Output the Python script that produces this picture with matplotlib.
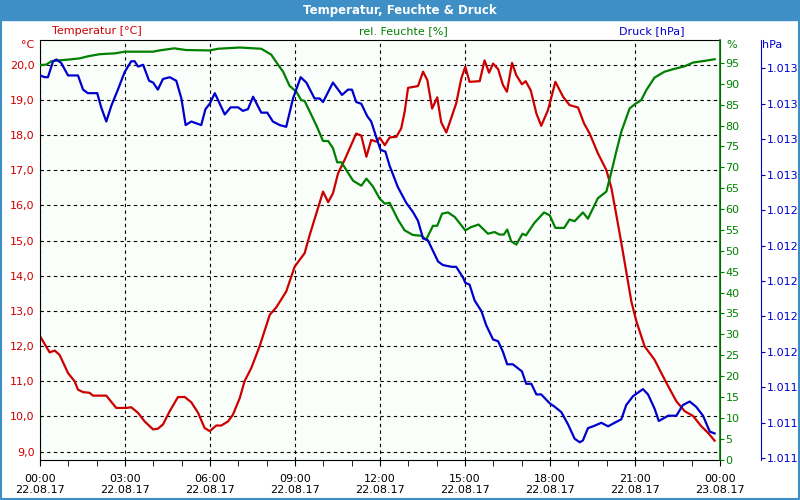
import matplotlib.pyplot as plt
from matplotlib.patches import Rectangle
from matplotlib.ticker import FixedLocator, FuncFormatter, MultipleLocator

# temperature [°C], hours since 22.08.17 00:00
temp_h = [0.0, 0.34, 0.52, 0.69, 0.99, 1.22, 1.34, 1.52, 1.75, 1.87, 2.34, 2.69, 3.05, 3.22, 3.46, 3.69,
          3.99, 4.16, 4.34, 4.58, 4.87, 5.11, 5.34, 5.58, 5.81, 5.99, 6.22, 6.4, 6.64, 6.81, 7.05, 7.22,
          7.46, 7.75, 8.11, 8.34, 8.69, 8.99, 9.34, 9.52, 9.99, 10.17, 10.34, 10.52, 10.75, 11.16, 11.34,
          11.52, 11.69, 11.87, 11.99, 12.17, 12.34, 12.58, 12.75, 12.87, 12.99, 13.34, 13.52, 13.67,
          13.84, 14.02, 14.16, 14.34, 14.69, 14.87, 15.01, 15.16, 15.52, 15.69, 15.85, 15.99, 16.17,
          16.34, 16.48, 16.66, 16.81, 17.01, 17.14, 17.32, 17.52, 17.69, 17.93, 18.19, 18.46, 18.69,
          18.99, 19.2, 19.4, 19.69, 19.99, 20.17, 20.34, 20.52, 20.69, 20.87, 21.05, 21.34, 21.69,
          21.93, 22.17, 22.46, 22.75, 23.05, 23.34, 23.58, 23.81]
temp = [12.28, 11.82, 11.87, 11.75, 11.23, 11.0, 10.76, 10.69, 10.67, 10.59, 10.59, 10.24, 10.24, 10.26,
        10.10, 9.86, 9.63, 9.65, 9.77, 10.15, 10.55, 10.55, 10.40, 10.10, 9.67, 9.58, 9.74, 9.74, 9.86,
        10.05, 10.52, 11.0, 11.38, 11.99, 12.89, 13.10, 13.55, 14.26, 14.64, 15.16, 16.39, 16.09, 16.34,
        16.91, 17.29, 18.04, 17.98, 17.38, 17.86, 17.81, 17.92, 17.71, 17.93, 17.95, 18.19, 18.66, 19.34,
        19.39, 19.80, 19.56, 18.75, 19.07, 18.36, 18.07, 18.90, 19.61, 19.94, 19.51, 19.53, 20.12, 19.77,
        20.03, 19.87, 19.42, 19.23, 20.05, 19.70, 19.44, 19.53, 19.27, 18.61, 18.26, 18.71, 19.51, 19.09,
        18.85, 18.78, 18.33, 18.04, 17.48, 17.00, 16.48, 15.73, 14.92, 14.12, 13.27, 12.70, 11.99, 11.61,
        11.23, 10.86, 10.43, 10.15, 10.01, 9.72, 9.53, 9.31]

# relative humidity [%]
hum_h = [0.0, 0.22, 0.4, 0.64, 0.99, 1.4, 1.69, 2.11, 2.64, 2.99, 3.99, 4.21, 4.74, 5.15, 5.99, 6.28,
         7.05, 7.81, 8.16, 8.4, 8.58, 8.81, 9.05, 9.22, 9.34, 9.58, 9.75, 9.99, 10.17, 10.34, 10.49,
         10.64, 11.05, 11.34, 11.52, 11.75, 11.99, 12.17, 12.34, 12.63, 12.87, 13.16, 13.46, 13.63,
         13.87, 14.02, 14.19, 14.4, 14.64, 15.01, 15.22, 15.48, 15.81, 16.04, 16.22, 16.37, 16.49,
         16.63, 16.81, 17.03, 17.15, 17.45, 17.79, 17.99, 18.19, 18.5, 18.69, 18.87, 19.16, 19.34,
         19.69, 19.99, 20.17, 20.34, 20.52, 20.81, 21.01, 21.22, 21.4, 21.69, 22.04, 22.34, 22.75,
         23.05, 23.46, 23.81]
hum = [94.5, 94.6, 95.4, 95.6, 95.8, 96.1, 96.6, 97.1, 97.3, 97.7, 97.7, 98.0, 98.5, 98.1, 98.0, 98.4,
       98.7, 98.4, 97.0, 94.6, 92.9, 89.5, 88.1, 86.1, 85.9, 82.5, 80.1, 76.3, 76.3, 74.6, 71.2, 71.2,
       66.8, 65.6, 67.3, 65.4, 62.5, 61.3, 61.5, 57.5, 54.9, 53.8, 53.6, 52.7, 56.0, 56.0, 58.9, 59.2,
       58.1, 54.9, 55.7, 56.3, 54.1, 54.5, 53.9, 53.9, 55.1, 52.3, 51.5, 54.1, 53.7, 56.7, 59.2, 58.5,
       55.5, 55.5, 57.5, 57.1, 59.2, 57.7, 62.6, 64.2, 69.0, 73.8, 78.6, 84.1, 85.2, 86.1, 88.5, 91.5,
       92.9, 93.5, 94.2, 95.1, 95.5, 95.9]

# air pressure [hPa]
pres_h = [0.0, 0.17, 0.28, 0.46, 0.58, 0.75, 0.99, 1.34, 1.52, 1.69, 2.02, 2.16, 2.34, 2.52, 2.75, 2.99,
          3.22, 3.34, 3.46, 3.64, 3.85, 3.99, 4.16, 4.34, 4.58, 4.81, 4.99, 5.14, 5.34, 5.69, 5.84, 5.99,
          6.17, 6.52, 6.73, 6.99, 7.16, 7.34, 7.52, 7.81, 8.02, 8.22, 8.46, 8.69, 8.93, 9.2, 9.4, 9.69,
          9.87, 9.99, 10.34, 10.66, 10.87, 11.01, 11.16, 11.34, 11.55, 11.69, 11.87, 12.02, 12.19, 12.34,
          12.63, 12.93, 13.16, 13.34, 13.52, 13.69, 13.87, 14.05, 14.22, 14.53, 14.69, 14.93, 15.01,
          15.16, 15.34, 15.58, 15.75, 15.99, 16.17, 16.34, 16.49, 16.69, 17.01, 17.16, 17.34, 17.52,
          17.69, 17.87, 17.99, 18.17, 18.4, 18.64, 18.87, 19.05, 19.16, 19.34, 19.52, 19.81, 20.05,
          20.28, 20.52, 20.69, 20.93, 21.28, 21.46, 21.69, 21.84, 22.17, 22.46, 22.69, 22.93, 23.16,
          23.4, 23.64, 23.81]
pres = [1013.16, 1013.15, 1013.15, 1013.24, 1013.25, 1013.23, 1013.16, 1013.16, 1013.08, 1013.06,
        1013.06, 1012.98, 1012.90, 1012.99, 1013.08, 1013.18, 1013.24, 1013.24, 1013.21, 1013.22,
        1013.13, 1013.12, 1013.08, 1013.14, 1013.15, 1013.13, 1013.03, 1012.88, 1012.90, 1012.88,
        1012.97, 1013.00, 1013.06, 1012.94, 1012.98, 1012.98, 1012.96, 1012.97, 1013.04, 1012.95,
        1012.95, 1012.90, 1012.88, 1012.87, 1013.03, 1013.15, 1013.12, 1013.03, 1013.03, 1013.01,
        1013.12, 1013.05, 1013.08, 1013.08, 1013.01, 1013.00, 1012.93, 1012.90, 1012.81, 1012.74,
        1012.73, 1012.65, 1012.53, 1012.44, 1012.39, 1012.34, 1012.24, 1012.23, 1012.17, 1012.11,
        1012.09, 1012.08, 1012.08, 1012.02, 1011.99, 1011.98, 1011.89, 1011.83, 1011.75, 1011.67,
        1011.66, 1011.60, 1011.53, 1011.53, 1011.49, 1011.42, 1011.42, 1011.36, 1011.36, 1011.33,
        1011.31, 1011.29, 1011.26, 1011.19, 1011.11, 1011.09, 1011.10, 1011.17, 1011.18, 1011.20,
        1011.18, 1011.20, 1011.22, 1011.30, 1011.35, 1011.39, 1011.36, 1011.28, 1011.21, 1011.24,
        1011.24, 1011.30, 1011.32, 1011.29, 1011.24, 1011.15, 1011.14]

x_ticks = [0, 3, 6, 9, 12, 15, 18, 21, 24]
x_labels = ["00:00\n22.08.17", "03:00\n22.08.17", "06:00\n22.08.17", "09:00\n22.08.17",
            "12:00\n22.08.17", "15:00\n22.08.17", "18:00\n22.08.17", "21:00\n22.08.17",
            "00:00\n23.08.17"]
temp_ticks = [9, 10, 11, 12, 13, 14, 15, 16, 17, 18, 19, 20]
hum_ticks = list(range(0, 100, 5))
pres_ticks = [1011.0, 1011.2, 1011.4, 1011.6, 1011.8, 1012.0, 1012.2, 1012.4, 1012.6, 1012.8,
              1013.0, 1013.2]

RED = '#cc0000'
GREEN = '#008000'
BLUE = '#0000cc'
BAR = '#3d8fc6'

fig = plt.figure(figsize=(8, 5), dpi=100)
fig.patch.set_facecolor('white')
fig.patches.append(Rectangle((0, 0.96), 1, 0.04, transform=fig.transFigure, color=BAR, zorder=0))
fig.patches.append(Rectangle((0.0015, 0.002), 0.997, 0.996, transform=fig.transFigure,
                             fill=False, edgecolor=BAR, lw=1.5, zorder=0))
fig.text(0.5, 0.979, "Temperatur, Feuchte & Druck", color='white', fontsize=8.5,
         fontweight='bold', ha='center', va='center')

ax = fig.add_axes([0.05, 0.08, 0.85, 0.84])
ax.set_facecolor('#fafefa')
ax.plot(temp_h, temp, color=RED, lw=1.6)
ax.set_xlim(0, 24)
ax.set_ylim(8.76, 20.7)
ax.set_yticks(temp_ticks)
ax.yaxis.set_major_formatter(FuncFormatter(lambda v, p: f"{v:.1f}".replace('.', ',')))
ax.tick_params(axis='y', colors=RED, labelsize=8, length=0, pad=4)
ax.set_xticks(x_ticks)
ax.set_xticklabels(x_labels)
ax.xaxis.set_minor_locator(MultipleLocator(1))
ax.tick_params(axis='x', which='both', labelsize=8, length=4, direction='out', pad=6)
ax.grid(True, which='major', color='black', linestyle=(0, (3, 3)), lw=0.8)
for s in ax.spines.values():
    s.set_color('black')

ax_h = ax.twinx()
ax_h.plot(hum_h, hum, color=GREEN, lw=1.6)
ax_h.set_ylim(-0.1, 100.5)
ax_h.yaxis.set_major_locator(FixedLocator(hum_ticks))
ax_h.tick_params(axis='y', colors=GREEN, labelsize=8, length=3, pad=1)
ax_h.spines['right'].set_color(GREEN)
ax_h.spines['right'].set_linewidth(1.2)

ax_p = ax.twinx()
ax_p.plot(pres_h, pres, color=BLUE, lw=1.6)
ax_p.set_ylim(1010.99, 1013.36)
ax_p.spines['right'].set_position(('axes', 1.06))
ax_p.spines['right'].set_color(BLUE)
ax_p.spines['right'].set_bounds(1010.99, 1013.36)
ax_p.yaxis.set_major_locator(FixedLocator(pres_ticks))
ax_p.yaxis.set_major_formatter(FuncFormatter(lambda v, p: f"{round(v):,}".replace(',', '.')))
ax_p.tick_params(axis='y', colors=BLUE, labelsize=8, length=3, pad=1)
for s in ['top', 'left', 'bottom']:
    ax_p.spines[s].set_visible(False)
    ax_h.spines[s].set_visible(False)

fig.text(0.121, 0.937, "Temperatur [°C]", color=RED, fontsize=8, ha='center', va='center')
fig.text(0.504, 0.937, "rel. Feuchte [%]", color=GREEN, fontsize=8, ha='center', va='center')
fig.text(0.815, 0.937, "Druck [hPa]", color=BLUE, fontsize=8, ha='center', va='center')
fig.text(0.035, 0.91, "°C", color=RED, fontsize=8, ha='center', va='center')
fig.text(0.914, 0.91, "%", color=GREEN, fontsize=8, ha='center', va='center')
fig.text(0.953, 0.91, "hPa", color=BLUE, fontsize=8, ha='left', va='center')

fig.savefig('out.png', dpi=100)
